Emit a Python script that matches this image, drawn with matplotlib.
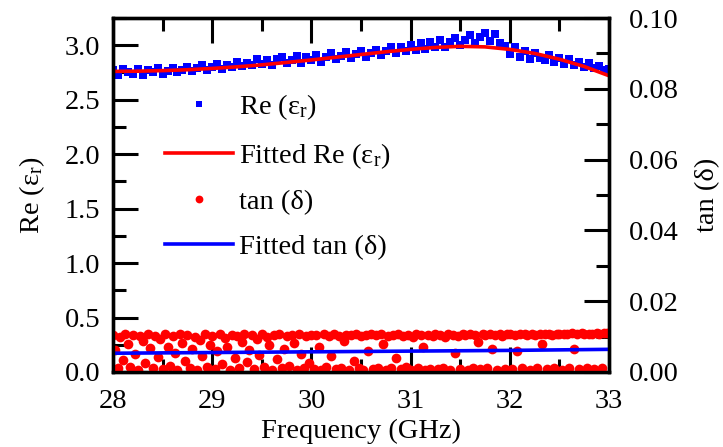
import numpy as np
import matplotlib
matplotlib.use("Agg")
from matplotlib import pyplot as plt
from matplotlib.ticker import MultipleLocator

plt.rcParams["font.family"] = ["Liberation Serif", "DejaVu Serif"]
plt.rcParams["mathtext.default"] = "regular"
plt.rcParams["font.size"] = 20.5

# Measured permittivity, 28-33 GHz sweep
re_eps = [
    2.77, 2.73, 2.78, 2.75, 2.74, 2.78, 2.73, 2.77, 2.75, 2.79,
    2.74, 2.76, 2.79, 2.75, 2.77, 2.80, 2.76, 2.79, 2.82, 2.77,
    2.80, 2.83, 2.78, 2.82, 2.80, 2.85, 2.81, 2.84, 2.82, 2.87,
    2.83, 2.86, 2.82, 2.87, 2.89, 2.84, 2.86, 2.90, 2.84, 2.89,
    2.86, 2.91, 2.85, 2.89, 2.93, 2.87, 2.90, 2.94, 2.88, 2.92,
    2.95, 2.89, 2.93, 2.96, 2.91, 2.95, 2.98, 2.93, 2.98, 2.95,
    3.00, 2.96, 3.02, 2.97, 3.03, 2.98, 3.05, 2.98, 3.03, 3.07,
    3.00, 3.05, 3.09, 3.02, 3.08, 3.11, 3.04, 3.10, 3.02, 2.99,
    2.92, 2.98, 2.89, 2.95, 2.87, 2.93, 2.88, 2.86, 2.91, 2.85,
    2.88, 2.83, 2.87, 2.82, 2.85, 2.80, 2.84, 2.79, 2.81, 2.77,
    2.78,
]
freq_re = np.linspace(28, 33, len(re_eps))

fit_re = [
    2.760, 2.762, 2.767, 2.775, 2.787, 2.802, 2.820, 2.842, 2.865, 2.890,
    2.915, 2.940, 2.962, 2.980, 2.990, 2.985, 2.962, 2.925, 2.872, 2.805,
    2.720,
]
freq_fit_re = np.linspace(28, 33, len(fit_re))

tan_d = [
    0.0105, 0.0062, 0.0012, 0.0098, 0.0035, 0.0108, 0.0078, 0.0015, 0.0104, 0.0050,
    0.0006, 0.0101, 0.0088, 0.0025, 0.0107, 0.0068, 0.0010, 0.0103, 0.0042, 0.0094,
    0.0008, 0.0106, 0.0072, 0.0018, 0.0102, 0.0055, 0.0005, 0.0108, 0.0083, 0.0030,
    0.0104, 0.0012, 0.0065, 0.0100, 0.0007, 0.0090, 0.0046, 0.0106, 0.0015, 0.0075,
    0.0103, 0.0009, 0.0058, 0.0107, 0.0022, 0.0096, 0.0070, 0.0006, 0.0105, 0.0040,
    0.0101, 0.0011, 0.0085, 0.0108, 0.0028, 0.0062, 0.0104, 0.0008, 0.0092, 0.0048,
    0.0106, 0.0013, 0.0100, 0.0076, 0.0007, 0.0104, 0.0036, 0.0108, 0.0010, 0.0066,
    0.0102, 0.0018, 0.0105, 0.0082, 0.0006, 0.0107, 0.0052, 0.0012, 0.0103, 0.0025,
    0.0105, 0.0009, 0.0104, 0.0070, 0.0006, 0.0107, 0.0014, 0.0102, 0.0045, 0.0106,
    0.0008, 0.0103, 0.0011, 0.0088, 0.0105, 0.0007, 0.0104, 0.0030, 0.0106, 0.0010,
    0.0103, 0.0006, 0.0105, 0.0060, 0.0107, 0.0009, 0.0104, 0.0012, 0.0106, 0.0080,
    0.0007, 0.0103, 0.0010, 0.0105, 0.0040, 0.0106, 0.0008, 0.0102, 0.0015, 0.0104,
    0.0007, 0.0100, 0.0106, 0.0010, 0.0104, 0.0072, 0.0006, 0.0105, 0.0009, 0.0102,
    0.0106, 0.0008, 0.0104, 0.0011, 0.0098, 0.0106, 0.0007, 0.0105, 0.0055, 0.0103,
    0.0009, 0.0106, 0.0104, 0.0007, 0.0107, 0.0012, 0.0105, 0.0084, 0.0008, 0.0106,
    0.0104, 0.0010, 0.0107, 0.0065, 0.0105, 0.0006, 0.0108, 0.0103, 0.0009, 0.0106,
    0.0107, 0.0008, 0.0105, 0.0060, 0.0108, 0.0011, 0.0106, 0.0104, 0.0007, 0.0107,
    0.0105, 0.0010, 0.0108, 0.0078, 0.0106, 0.0008, 0.0107, 0.0105, 0.0012, 0.0108,
    0.0106, 0.0007, 0.0108, 0.0107, 0.0010, 0.0109, 0.0066, 0.0107, 0.0008, 0.0109,
    0.0106, 0.0011, 0.0108, 0.0107, 0.0009, 0.0110, 0.0108, 0.0012, 0.0109, 0.0110,
    0.0110,
]
freq_tan = np.linspace(28, 33, len(tan_d))

fit_tan = [0.0053, 0.0055, 0.0057, 0.0059, 0.0061, 0.0064]
freq_fit_tan = [28, 29, 30, 31, 32, 33]

fig = plt.figure(figsize=(7.23, 4.47), dpi=100)
ax1 = fig.add_axes([0.1563, 0.1678, 0.686, 0.7919])
ax2 = ax1.twinx()

h1, = ax1.plot(freq_re, re_eps, "s", color="#0000ff", ms=6, mew=0, label="Re (ε$_\\mathregular{r}$)")
h2, = ax1.plot(freq_fit_re, fit_re, "-", color="#ff0000", lw=2.6, label="Fitted Re (ε$_\\mathregular{r}$)")
h3, = ax2.plot(freq_tan, tan_d, "o", color="#ff0000", ms=7, mew=0, label="tan (δ)")
h4, = ax2.plot(freq_fit_tan, fit_tan, "-", color="#0000ff", lw=2.6, label="Fitted tan (δ)")

ax1.set_xlim(28, 33)
ax1.set_ylim(0, 3.25)
ax2.set_ylim(0, 0.10)

ax1.xaxis.set_major_locator(MultipleLocator(1))
ax1.xaxis.set_minor_locator(MultipleLocator(0.5))
ax1.yaxis.set_major_locator(MultipleLocator(0.5))
ax1.yaxis.set_minor_locator(MultipleLocator(0.25))
ax2.yaxis.set_major_locator(MultipleLocator(0.02))
ax2.yaxis.set_minor_locator(MultipleLocator(0.01))
ax1.yaxis.set_major_formatter(plt.FormatStrFormatter("%.1f"))
ax2.yaxis.set_major_formatter(plt.FormatStrFormatter("%.2f"))

ax1.tick_params(axis="x", which="both", direction="in", top=True, bottom=True)
ax1.tick_params(axis="y", which="both", direction="in", left=True, right=False)
ax2.tick_params(axis="y", which="both", direction="in")
for ax in (ax1, ax2):
    ax.tick_params(which="major", length=18, width=2.2)
    ax.tick_params(which="minor", length=9.5, width=2.2)
    for sp in ax.spines.values():
        sp.set_linewidth(2.4)
ax1.tick_params(axis="x", which="major", pad=12)
ax1.tick_params(axis="y", which="major", pad=9)
ax2.tick_params(axis="y", which="major", pad=14)

ax1.set_xlabel("Frequency (GHz)", labelpad=4)
ax1.set_ylabel("Re (ε$_\\mathregular{r}$)", labelpad=13)
ax2.set_ylabel("tan (δ)", labelpad=12)

ax2.legend(
    [h1, h2, h3, h4],
    [h.get_label() for h in (h1, h2, h3, h4)],
    loc="upper left",
    bbox_to_anchor=(0.105, 0.79),
    frameon=False,
    handlelength=2.4,
    handletextpad=0.2,
    labelspacing=0.66,
    borderpad=0,
    borderaxespad=0,
    markerscale=0.8,
)

fig.savefig("out.png", dpi=100)
